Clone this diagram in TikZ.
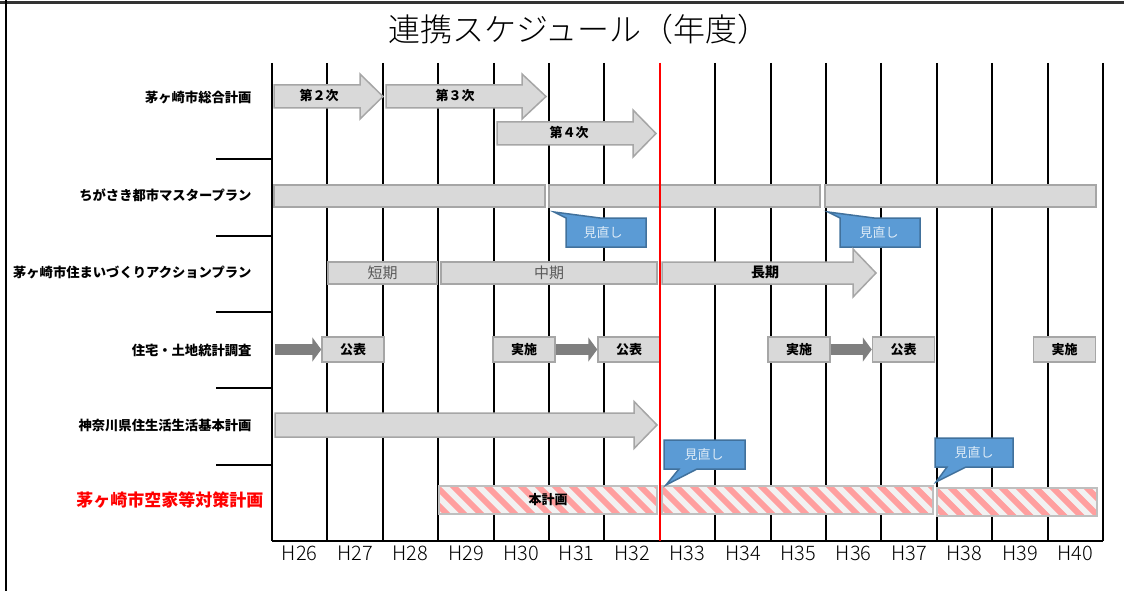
\documentclass[tikz,border=0pt]{standalone}
\usepackage{fontspec}
\setmainfont{Noto Sans CJK JP}
\newfontfamily\lightfont{Noto Sans CJK JP Light}
\usetikzlibrary{arrows.meta}

\definecolor{barfill}{HTML}{D9D9D9}
\definecolor{barline}{HTML}{A6A6A6}
\definecolor{darkarrow}{HTML}{7F7F7F}
\definecolor{calloutfill}{HTML}{5B9BD5}
\definecolor{calloutline}{HTML}{41719C}
\definecolor{callouttext}{HTML}{DDEBF7}
\definecolor{hatchpink}{HTML}{FF9F9F}
\definecolor{hatchbg}{HTML}{F2F2F2}
\definecolor{hatchline}{HTML}{BFBFBF}
\definecolor{termtext}{HTML}{595959}

\tikzset{
    gridline/.style={line width=2pt},
    planbar/.style={fill=barfill, draw=barline, line width=1.5pt},
    bigarrow/.style={fill=barfill, draw=barline, line width=1.5pt, line join=miter},
    termbar/.style={planbar, minimum height=22pt, inner sep=0pt, text=termtext, font=\fontsize{15}{15}\selectfont},
    statbox/.style={planbar, minimum width=62pt, minimum height=25pt, inner sep=0pt, font=\bfseries\fontsize{13}{13}\selectfont},
    statarrow/.style={draw=darkarrow, line width=11pt, -{Triangle[width=24pt,length=9pt]}},
    callout/.style={fill=calloutfill, draw=calloutline, line width=1.5pt},
    callouttxt/.style={text=callouttext, font=\fontsize{13}{13}\selectfont},
    rowlabel/.style={anchor=east, font=\bfseries\fontsize{13.3}{13.3}\selectfont},
    arrowlabel/.style={font=\bfseries\fontsize{13}{13}\selectfont},
    yearlabel/.style={font=\lightfont\fontsize{20}{20}\selectfont},
}

% 矢印 (始点x, 頭の根元x, 先端x, 中心y, 軸の半幅, 頭の半幅)
\newcommand{\bigarrow}[6]{%
    \draw[bigarrow] (#1,#4-#5) -- (#2,#4-#5) -- (#2,#4-#6) -- (#3,#4)
        -- (#2,#4+#6) -- (#2,#4+#5) -- (#1,#4+#5) -- cycle;}

% 斜線の棒 (左x, 上y, 右x, 下y)
\newcommand{\hatchbar}[4]{%
    \begin{scope}
        \clip (#1,#2) rectangle (#3,#4);
        \fill[hatchbg] (#1,#2) rectangle (#3,#4);
        \foreach \s in {0,17,...,340}
            \draw[hatchpink, line width=6pt] ({#1-40+\s},{#2-3}) -- ++(36,36);
    \end{scope}
    \draw[hatchline, line width=1.5pt] (#1,#2) rectangle (#3,#4);}

\begin{document}
\begin{tikzpicture}[x=1pt,y=-1pt]
    \useasboundingbox (0,0) rectangle (1124,591);

    % 枠
    \draw[line width=2.5pt, black!80] (0,2.5) -- (1124,2.5);
    \draw[line width=2pt] (6,0) -- (6,591);

    % 題
    \node[font=\lightfont\fontsize{32}{32}\selectfont] (title) at (579,29) {連携スケジュール（年度）};

    % 罫線と年度
    \foreach \k in {0,...,15}
        \draw[gridline] ({272+55.4*\k},63) -- ({272+55.4*\k},541);
    \draw[gridline] (272,541) -- (1103,541);
    \foreach \yr [count=\i from 0] in {26,...,40}
        \node[yearlabel] (H\yr) at ({299.7+55.4*\i},553.5) {H\yr};
    \foreach \y in {159,236,312,388,465}
        \draw[gridline] (216,\y) -- (272,\y);

    % 計画名
    \node[rowlabel] (sogo) at (255,98) {茅ヶ崎市総合計画};
    \node[rowlabel] (master) at (255,195) {ちがさき都市マスタープラン};
    \node[rowlabel] (action) at (255,272) {茅ヶ崎市住まいづくりアクションプラン};
    \node[rowlabel] (tokei) at (255,350) {住宅・土地統計調査};
    \node[rowlabel] (kanagawa) at (255,425) {神奈川県住生活生活基本計画};
    \node[rowlabel, text=red, font=\bfseries\fontsize{17}{17}\selectfont] (akiya) at (267,500) {茅ヶ崎市空家等対策計画};

    % 総合計画
    \bigarrow{274}{360}{383}{96.5}{11.5}{22.5}
    \bigarrow{386}{522}{546}{96.5}{11.5}{22.5}
    \bigarrow{497}{633}{656}{133.5}{11.5}{23.5}
    \node[arrowlabel] (dai2) at (319,95.5) {第２次};
    \node[arrowlabel] (dai3) at (455,95.5) {第３次};
    \node[arrowlabel] (dai4) at (569,132.5) {第４次};

    % 都市マスタープラン
    \draw[planbar] (274,185) rectangle (545,207);
    \draw[planbar] (549,185) rectangle (820,207);
    \draw[planbar] (825,185) rectangle (1096,207);
    \draw[callout] (566,218) -- (554,212) -- (600,218) -- (646,218) -- (646,247) -- (566,247) -- cycle;
    \node[callouttxt] (minaoshi1) at (603,232.5) {見直し};
    \draw[callout] (840,218) -- (828,212) -- (874,218) -- (920,218) -- (920,247) -- (840,247) -- cycle;
    \node[callouttxt] (minaoshi2) at (879,232.5) {見直し};

    % アクションプラン
    \node[termbar, minimum width=109pt] (tanki) at (382.5,273) {短期};
    \node[termbar, minimum width=216pt] (chuki) at (549,273) {中期};
    \bigarrow{662}{853}{876}{273}{11}{24}
    \node[arrowlabel, font=\bfseries\fontsize{14}{14}\selectfont] (choki) at (765,272.5) {長期};

    % 住宅・土地統計調査
    \node[statbox] (kohyo1) at (353,349.5) {公表};
    \node[statbox] (jisshi1) at (524,349.5) {実施};
    \node[statbox] (kohyo2) at (629,349.5) {公表};
    \node[statbox] (jisshi2) at (799,349.5) {実施};
    \node[statbox] (kohyo3) at (903.5,349.5) {公表};
    \node[statbox] (jisshi3) at (1064.5,349.5) {実施};
    \coordinate (tstart) at (275,349.5);
    \draw[statarrow] (tstart) -- (kohyo1.west);
    \draw[statarrow] (jisshi1.east) -- (kohyo2.west);
    \draw[statarrow] (jisshi2.east) -- (kohyo3.west);

    % 神奈川県
    \bigarrow{275}{634}{657}{425}{12}{23.5}

    % 空家等対策計画
    \hatchbar{439}{486}{657}{514}
    \hatchbar{662}{486}{933}{514}
    \hatchbar{937}{488}{1097}{516}
    \node[arrowlabel] (honkeikaku) at (548,500) {本計画};
    \draw[callout] (664,440) -- (745,440) -- (745,469) -- (697,469) -- (666,485) -- (679,469) -- (664,469) -- cycle;
    \node[callouttxt] (minaoshi3) at (704,454.5) {見直し};
    \draw[callout] (935,438) -- (1013,438) -- (1013,467) -- (966,467) -- (936,482) -- (947,467) -- (935,467) -- cycle;
    \node[callouttxt] (minaoshi4) at (974,452.5) {見直し};

    % 基準線
    \draw[line width=1.8pt, red] (659.8,63) -- (659.8,541);
\end{tikzpicture}
\end{document}
